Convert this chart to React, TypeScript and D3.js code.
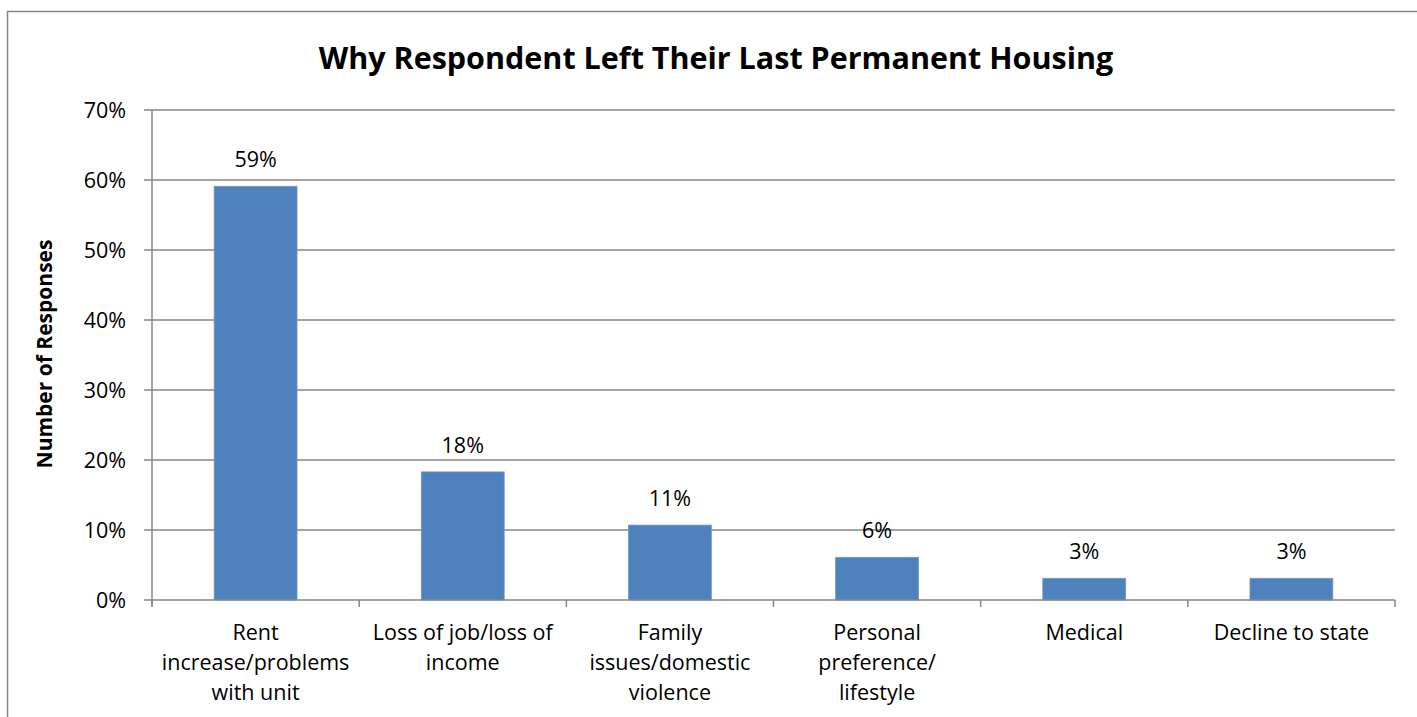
import React, { useEffect, useRef } from 'react';
import * as d3 from 'd3';

const categories = [
  ['Rent', 'increase/problems', 'with unit'],
  ['Loss of job/loss of', 'income'],
  ['Family', 'issues/domestic', 'violence'],
  ['Personal', 'preference/', 'lifestyle'],
  ['Medical'],
  ['Decline to state'],
];
const values = [0.591, 0.183, 0.107, 0.061, 0.031, 0.031];
const yTicks = [0, 0.1, 0.2, 0.3, 0.4, 0.5, 0.6, 0.7];

const W = 1417;
const H = 717;
const FONT = "'Open Sans', 'Liberation Sans', sans-serif";

const App: React.FC = () => {
  const svgRef = useRef<SVGSVGElement>(null);

  useEffect(() => {
    if (!svgRef.current) return;
    const svg = d3.select(svgRef.current);
    svg.selectAll('*').remove();

    const left = 152, right = 1395, top = 110, bottom = 600;

    // outer chart frame (cropped at right/bottom in the original)
    svg.append('rect')
      .attr('x', 7.5).attr('y', 11.5)
      .attr('width', W + 20).attr('height', H + 20)
      .attr('fill', 'white').attr('stroke', '#868686').attr('stroke-width', 1.5);

    const x = d3.scaleBand<number>()
      .domain(d3.range(categories.length))
      .range([left, right])
      .paddingInner(0.6).paddingOuter(0.3);

    const y = d3.scaleLinear().domain([0, 0.7]).range([bottom, top]);

    // gridlines + ticks
    svg.append('g')
      .selectAll('line')
      .data(yTicks.filter(t => t > 0))
      .join('line')
      .attr('x1', left - 8).attr('x2', right)
      .attr('y1', d => y(d)).attr('y2', d => y(d))
      .attr('stroke', '#868686').attr('stroke-width', 1.5);

    svg.append('g')
      .selectAll('text')
      .data(yTicks)
      .join('text')
      .attr('x', 126).attr('y', d => y(d) + 7.5)
      .attr('text-anchor', 'end')
      .attr('font-family', FONT).attr('font-size', 21.5)
      .attr('fill', '#000')
      .text(d => d3.format('.0%')(d));

    // bars
    svg.append('g')
      .selectAll('rect')
      .data(values)
      .join('rect')
      .attr('x', (_, i) => x(i)!)
      .attr('width', x.bandwidth())
      .attr('y', d => y(d))
      .attr('height', d => y(0) - y(d))
      .attr('fill', '#4F81BD')
      .attr('stroke', '#6F97CB').attr('stroke-width', 0.8);

    // data labels
    svg.append('g')
      .selectAll('text')
      .data(values)
      .join('text')
      .attr('x', (_, i) => x(i)! + x.bandwidth() / 2)
      .attr('y', d => y(d) - 19)
      .attr('text-anchor', 'middle')
      .attr('font-family', FONT).attr('font-size', 21.5)
      .attr('fill', '#000')
      .text(d => d3.format('.0%')(d));

    // axes lines
    svg.append('line')
      .attr('x1', left).attr('x2', left).attr('y1', top).attr('y2', bottom + 6)
      .attr('stroke', '#868686').attr('stroke-width', 1.5);
    svg.append('line')
      .attr('x1', left - 8).attr('x2', right).attr('y1', bottom).attr('y2', bottom)
      .attr('stroke', '#868686').attr('stroke-width', 1.5);

    const step = (right - left) / categories.length;
    svg.append('g')
      .selectAll('line')
      .data(d3.range(categories.length + 1))
      .join('line')
      .attr('x1', i => left + i * step).attr('x2', i => left + i * step)
      .attr('y1', bottom).attr('y2', bottom + 7)
      .attr('stroke', '#868686').attr('stroke-width', 1.5);

    // category labels
    const cat = svg.append('g')
      .selectAll('text')
      .data(categories)
      .join('text')
      .attr('text-anchor', 'middle')
      .attr('font-family', FONT).attr('font-size', 21.5)
      .attr('fill', '#000');
    cat.each(function (lines, i) {
      d3.select(this).selectAll('tspan')
        .data(lines)
        .join('tspan')
        .attr('x', x(i)! + x.bandwidth() / 2)
        .attr('y', (_, j) => 640 + j * 30)
        .text(d => d);
    });

    // title
    svg.append('text')
      .attr('x', 716).attr('y', 69)
      .attr('text-anchor', 'middle')
      .attr('font-family', FONT).attr('font-size', 30.5).attr('font-weight', 'bold')
      .attr('fill', '#000')
      .text('Why Respondent Left Their Last Permanent Housing');

    // y axis title
    svg.append('text')
      .attr('transform', 'translate(52,354) rotate(-90)')
      .attr('text-anchor', 'middle')
      .attr('font-family', FONT).attr('font-size', 21).attr('font-weight', 'bold')
      .attr('fill', '#000')
      .text('Number of Responses');
  }, []);

  return (
    <svg
      ref={svgRef}
      width={W}
      height={H}
      style={{ position: 'absolute', left: 0, top: 0, background: 'white' }}
    />
  );
};

export default App;
